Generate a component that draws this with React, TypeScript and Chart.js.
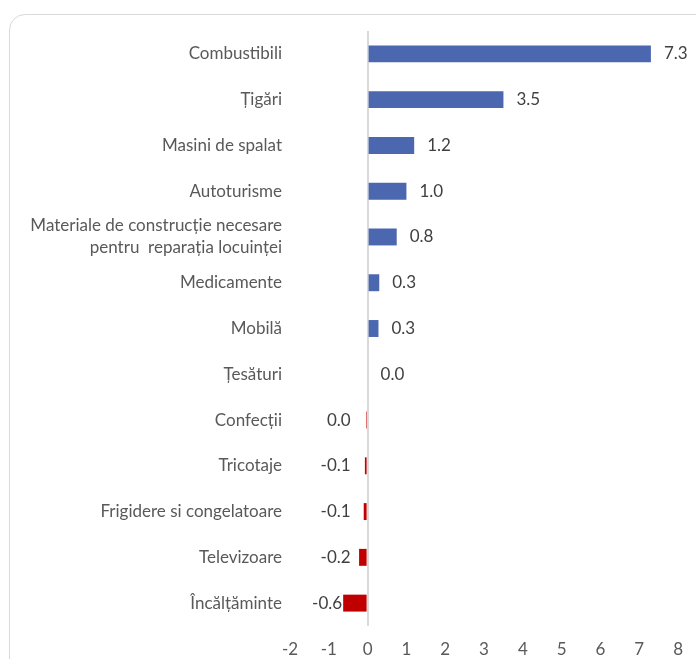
import React, { useEffect, useRef } from "react";
import { Chart, registerables } from "chart.js";

Chart.register(...registerables);

const categories: (string | string[])[] = [
  "Combustibili",
  "Țigări",
  "Masini de spalat",
  "Autoturisme",
  ["Materiale de construcție necesare", "pentru  reparația locuinței"],
  "Medicamente",
  "Mobilă",
  "Țesături",
  "Confecții",
  "Tricotaje",
  "Frigidere si congelatoare",
  "Televizoare",
  "Încălțăminte",
];

const values: number[] = [7.3, 3.5, 1.2, 1.0, 0.75, 0.3, 0.28, 0.0, -0.04, -0.07, -0.1, -0.22, -0.63];

const xTicks: number[] = [-2, -1, 0, 1, 2, 3, 4, 5, 6, 7, 8];

const BLUE = "#4A67B0";
const RED = "#C00000";
const FONT = "Lato, 'Open Sans', sans-serif";
const FS = 17;

const fmt = (v: number) => {
  const s = v.toFixed(1);
  return s === "-0.0" ? "0.0" : s;
};

const labelPlugin = {
  id: "barLabels",
  afterDatasetsDraw(chart: any) {
    const ctx = chart.ctx;
    const meta = chart.getDatasetMeta(0);
    const zeroX = chart.scales.x.getPixelForValue(0);
    ctx.save();
    ctx.font = `${FS}px ${FONT}`;
    ctx.fillStyle = "#404040";
    ctx.textBaseline = "middle";
    meta.data.forEach((el: any, i: number) => {
      const v = values[i];
      const txt = fmt(v);
      if (v >= 0) {
        ctx.textAlign = "left";
        ctx.fillText(txt, el.x + 13, el.y);
      } else {
        ctx.textAlign = "right";
        ctx.fillText(txt, Math.min(zeroX - 17, el.x - 1), el.y);
      }
    });
    ctx.restore();
  },
};

export default function App() {
  const ref = useRef<HTMLCanvasElement>(null);
  useEffect(() => {
    document.body.style.overflow = "hidden";
    const chart = new Chart(ref.current!, {
      type: "bar",
      data: {
        labels: categories,
        datasets: [
          {
            data: values,
            backgroundColor: values.map((v) => (v >= 0 ? BLUE : RED)),
            barPercentage: 0.37,
            categoryPercentage: 1,
          },
        ],
      },
      options: {
        indexAxis: "y",
        animation: false,
        responsive: false,
        maintainAspectRatio: false,
        layout: { padding: { top: 31, right: 15, left: 0, bottom: 0 } },
        plugins: { legend: { display: false }, tooltip: { enabled: false } },
        scales: {
          x: {
            type: "linear",
            min: -2,
            max: 8,
            afterBuildTicks: (s: any) => {
              s.ticks = xTicks.map((v) => ({ value: v }));
            },
            afterFit: (s: any) => {
              s.height = 33;
            },
            border: { display: false },
            grid: {
              drawTicks: false,
              lineWidth: 2,
              color: (c: any) => (c.tick && c.tick.value === 0 ? "#d9d9d9" : "rgba(0,0,0,0)"),
            },
            ticks: {
              autoSkip: false,
              maxRotation: 0,
              padding: 13,
              color: "#595959",
              font: { family: FONT, size: FS },
            },
          },
          y: {
            type: "category",
            afterFit: (s: any) => {
              s.width = 290;
            },
            border: { display: false },
            grid: { display: false, drawTicks: false },
            ticks: {
              autoSkip: false,
              padding: 8,
              color: "#595959",
              font: { family: FONT, size: FS, lineHeight: 1.3 },
            },
          },
        },
      },
      plugins: [labelPlugin],
    } as any);
    return () => chart.destroy();
  }, []);

  return (
    <div style={{ position: "fixed", left: 0, top: 0, width: 696, height: 659, overflow: "hidden", background: "#fff" }}>
      <div
        style={{
          position: "absolute",
          left: 9,
          top: 14,
          width: 760,
          height: 720,
          border: "1.5px solid #d9d9d9",
          borderRadius: 16,
          boxSizing: "border-box",
        }}
      />
      <canvas ref={ref} width={696} height={659} style={{ position: "absolute", left: 0, top: 0, width: 696, height: 659 }} />
    </div>
  );
}
